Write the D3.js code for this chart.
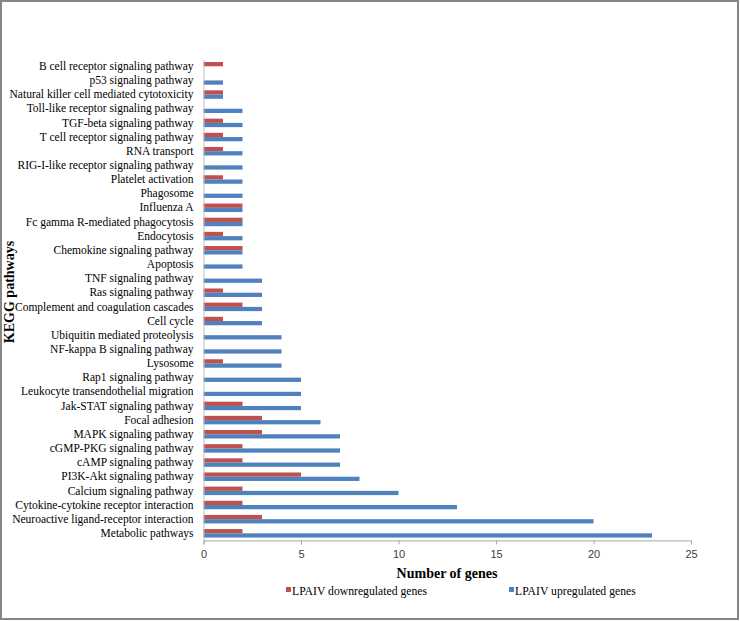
<!DOCTYPE html>
<html>
<head>
<meta charset="utf-8">
<script src="https://cdn.jsdelivr.net/npm/d3@7"></script>
<style>
  html, body { margin: 0; padding: 0; background: #fff; }
  svg { display: block; }
</style>
</head>
<body>
<svg id="chart" width="740" height="621"></svg>
<script>
// Categories from top to bottom
const categories = [
  "B cell receptor signaling pathway",
  "p53 signaling pathway",
  "Natural killer cell mediated cytotoxicity",
  "Toll-like receptor signaling pathway",
  "TGF-beta signaling pathway",
  "T cell receptor signaling pathway",
  "RNA transport",
  "RIG-I-like receptor signaling pathway",
  "Platelet activation",
  "Phagosome",
  "Influenza A",
  "Fc gamma R-mediated phagocytosis",
  "Endocytosis",
  "Chemokine signaling pathway",
  "Apoptosis",
  "TNF signaling pathway",
  "Ras signaling pathway",
  "Complement and coagulation cascades",
  "Cell cycle",
  "Ubiquitin mediated proteolysis",
  "NF-kappa B signaling pathway",
  "Lysosome",
  "Rap1 signaling pathway",
  "Leukocyte transendothelial migration",
  "Jak-STAT signaling pathway",
  "Focal adhesion",
  "MAPK signaling pathway",
  "cGMP-PKG signaling pathway",
  "cAMP signaling pathway",
  "PI3K-Akt signaling pathway",
  "Calcium signaling pathway",
  "Cytokine-cytokine receptor interaction",
  "Neuroactive ligand-receptor interaction",
  "Metabolic pathways"
];
const downregulated = [1,0,1,0,1,1,1,0,1,0,2,2,1,2,0,0,1,2,1,0,0,1,0,0,2,3,3,2,2,5,2,2,3,2];
const upregulated   = [0,1,1,2,2,2,2,2,2,2,2,2,2,2,2,3,3,3,3,4,4,4,5,5,5,6,7,7,7,8,10,13,20,23];
const seriesNames = ["LPAIV downregulated genes", "LPAIV upregulated genes"];
const seriesColors = ["#C0504D", "#4F81BD"];
const xTicks = [0, 5, 10, 15, 20, 25];
const xTitle = "Number of genes";
const yTitle = "KEGG pathways";

const svg = d3.select("#chart");
const plotLeft = 203.5, plotRight = 691, plotTop = 59.2, plotBottom = 540.4;
const serif = "'Liberation Serif', 'Times New Roman', serif";

// outer frame
svg.append("rect").attr("x", 1).attr("y", 1).attr("width", 737).attr("height", 618)
  .attr("fill", "#fff").attr("stroke", "#868686").attr("stroke-width", 2);

const x = d3.scaleLinear().domain([0, 25]).range([plotLeft, plotRight]);
const y = d3.scaleBand().domain(categories).range([plotTop, plotBottom])
  .paddingInner(0.4).paddingOuter(0.2);
const ySub = d3.scaleBand().domain([0, 1]).range([0, y.bandwidth()]);

const rows = categories.map((c, i) => ({ c, vals: [downregulated[i], upregulated[i]] }));

const g = svg.append("g");
const rowG = g.selectAll("g.row").data(rows).join("g")
  .attr("class", "row")
  .attr("transform", d => `translate(0,${y(d.c)})`);
rowG.selectAll("rect").data(d => d.vals.map((v, k) => ({ v, k })))
  .join("rect")
  .attr("x", x(0))
  .attr("y", d => ySub(d.k))
  .attr("width", d => x(d.v) - x(0))
  .attr("height", ySub.bandwidth())
  .attr("fill", d => seriesColors[d.k]);

// x axis
const xAxis = svg.append("g").attr("transform", `translate(0,${plotBottom})`)
  .call(d3.axisBottom(x).tickValues(xTicks).tickSize(4).tickPadding(6));
xAxis.select(".domain").attr("stroke", "#a6a6a6");
xAxis.selectAll(".tick line").attr("stroke", "#a6a6a6");
xAxis.selectAll(".tick text").attr("font-family", "'Liberation Sans', Arial, sans-serif")
  .attr("font-size", 11).attr("fill", "#404040");

// y axis
const yAxis = svg.append("g").attr("transform", `translate(${plotLeft},0)`)
  .call(d3.axisLeft(y).tickSize(0).tickPadding(10));
yAxis.select(".domain").attr("stroke", "#bfbfbf");
yAxis.selectAll(".tick text").attr("font-family", serif)
  .attr("font-size", 11.5).attr("fill", "#000");

// axis titles
svg.append("text").attr("x", 447).attr("y", 578).attr("text-anchor", "middle")
  .attr("font-family", serif)
  .attr("font-size", 14).attr("font-weight", "bold").text(xTitle);
svg.append("text").attr("transform", "translate(14,292) rotate(-90)").attr("text-anchor", "middle")
  .attr("font-family", serif)
  .attr("font-size", 14).attr("font-weight", "bold").text(yTitle);

// legend
const legendX = [286, 509];
seriesNames.forEach((name, k) => {
  svg.append("rect").attr("x", legendX[k]).attr("y", 587).attr("width", 5).attr("height", 5)
    .attr("fill", seriesColors[k]);
  svg.append("text").attr("x", legendX[k] + 6).attr("y", 595)
    .attr("font-family", serif)
    .attr("font-size", 11.7).attr("fill", "#000").text(name);
});
</script>
</body>
</html>
